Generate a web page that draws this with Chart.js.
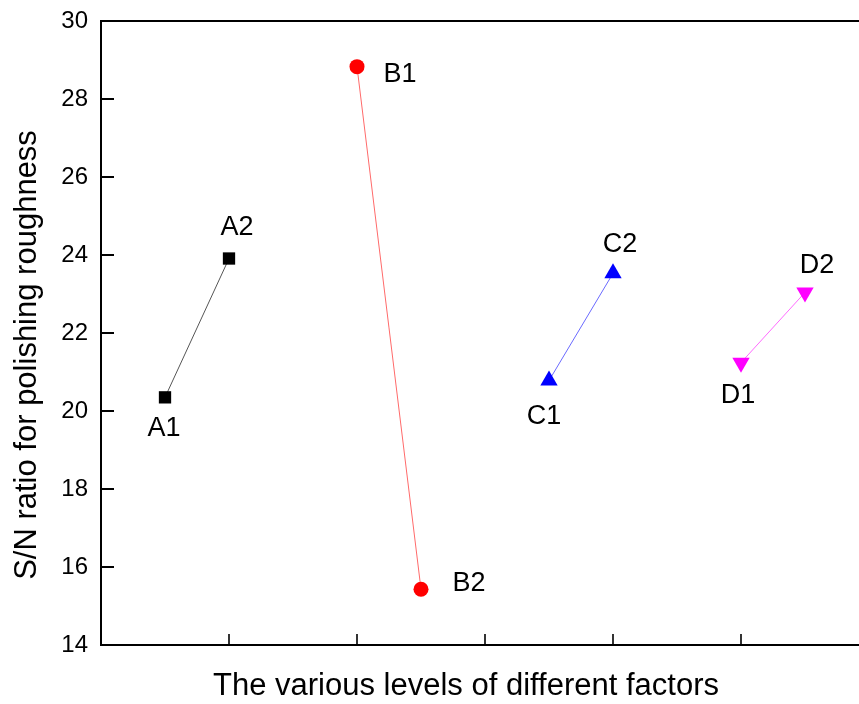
<!DOCTYPE html>
<html>
<head>
<meta charset="utf-8">
<script src="https://cdn.jsdelivr.net/npm/chart.js@4/dist/chart.umd.min.js"></script>
<style>
    html, body { margin: 0; padding: 0; background: #fff; overflow: hidden; }
    #wrap { width: 859px; height: 704px; overflow: hidden; }
</style>
</head>
<body>
<div id="wrap"><canvas id="snChart" width="870" height="704"></canvas></div>
<script>
// Factors and their two levels
const factorNames = ['A', 'B', 'C', 'D'];
const level1X = [0.5, 2, 3.5, 5];
const level2X = [1, 2.5, 4, 5.5];
const level1SN = [20.35, 28.83, 20.78, 21.24];
const level2SN = [23.91, 15.43, 23.53, 23.04];

// Axis ticks
const xTicks = [1, 2, 3, 4, 5];
const yTicks = [14, 16, 18, 20, 22, 24, 26, 28, 30];

const xTitle = 'The various levels of different factors';
const yTitle = 'S/N ratio for polishing roughness';

// Styles per factor
const markerColors = ['#000000', '#ff0000', '#0000ff', '#ff00ff'];
const lineColors = ['#555555', '#ff6a6a', '#6a6aff', '#ff6aff'];
const markerStyles = ['rect', 'circle', 'triangle', 'triangle'];
const markerRotation = [0, 0, 0, 180];
const markerRadius = [8.7, 7.5, 10, 10];

// Label placement relative to each marker: [level1 offset, level2 offset]
const labelOffsets = [
    [[-1, 31], [8, -31]],
    [[43, 8], [48, -6]],
    [[-5, 36], [7, -29]],
    [[-3, 33], [12, -27]]
];

const FONT = "'Liberation Sans', Arial, sans-serif";

const datasets = factorNames.map((name, i) => ({
    label: name,
    data: [
        { x: level1X[i], y: level1SN[i] },
        { x: level2X[i], y: level2SN[i] }
    ],
    borderColor: lineColors[i],
    borderWidth: 1,
    backgroundColor: markerColors[i],
    pointBackgroundColor: markerColors[i],
    pointBorderColor: markerColors[i],
    pointBorderWidth: 0,
    pointStyle: markerStyles[i],
    pointRotation: markerRotation[i],
    pointRadius: markerRadius[i],
    tension: 0,
    showLine: true,
    clip: false
}));

const framePlugin = {
    id: 'frame',
    afterDraw(chart) {
        const ctx = chart.ctx;
        const area = chart.chartArea;
        const xs = chart.scales.x;
        const ys = chart.scales.y;

        ctx.save();
        ctx.strokeStyle = '#000';
        ctx.lineWidth = 2;
        ctx.strokeRect(area.left, area.top, area.right - area.left, area.bottom - area.top);

        // inward tick marks
        yTicks.forEach(v => {
            const py = Math.round(ys.getPixelForValue(v));
            ctx.beginPath();
            ctx.moveTo(area.left, py);
            ctx.lineTo(area.left + 13, py);
            ctx.stroke();
        });
        ctx.lineWidth = 1.6;
        xTicks.forEach(v => {
            const px = Math.round(xs.getPixelForValue(v));
            ctx.beginPath();
            ctx.moveTo(px, area.bottom);
            ctx.lineTo(px, area.bottom - 11);
            ctx.stroke();
        });

        // axis titles
        ctx.fillStyle = '#000';
        ctx.font = '31px ' + FONT;
        ctx.textAlign = 'center';
        ctx.textBaseline = 'middle';
        ctx.fillText(xTitle, area.left + 365, 686);

        ctx.translate(27, 355);
        ctx.rotate(-Math.PI / 2);
        ctx.fillText(yTitle, 0, 0);
        ctx.restore();

        // point labels
        ctx.save();
        ctx.fillStyle = '#000';
        ctx.font = '27px ' + FONT;
        ctx.textAlign = 'center';
        ctx.textBaseline = 'middle';
        chart.data.datasets.forEach((ds, i) => {
            const meta = chart.getDatasetMeta(i);
            meta.data.forEach((pt, j) => {
                const off = labelOffsets[i][j];
                ctx.fillText(factorNames[i] + (j + 1), pt.x + off[0], pt.y + off[1]);
            });
        });
        ctx.restore();
    }
};

new Chart(document.getElementById('snChart').getContext('2d'), {
    type: 'scatter',
    data: { datasets: datasets },
    options: {
        responsive: false,
        animation: false,
        events: [],
        layout: { autoPadding: false, padding: { top: 21, right: 1, left: 0, bottom: 0 } },
        plugins: {
            legend: { display: false },
            tooltip: { enabled: false }
        },
        scales: {
            x: {
                type: 'linear',
                min: 0,
                max: 6,
                grid: { display: false, drawTicks: false },
                border: { display: false },
                ticks: { display: false },
                afterFit: scale => { scale.height = 59; }
            },
            y: {
                type: 'linear',
                min: 14,
                max: 30,
                grid: { display: false, drawTicks: false },
                border: { display: false },
                afterBuildTicks: scale => {
                    scale.ticks = yTicks.map(v => ({ value: v }));
                },
                ticks: {
                    color: '#000',
                    padding: 13,
                    font: { family: FONT, size: 24 }
                },
                afterFit: scale => {
                    scale.width = 101;
                    scale.paddingTop = 0;
                    scale.paddingBottom = 0;
                }
            }
        }
    },
    plugins: [framePlugin]
});
</script>
</body>
</html>
